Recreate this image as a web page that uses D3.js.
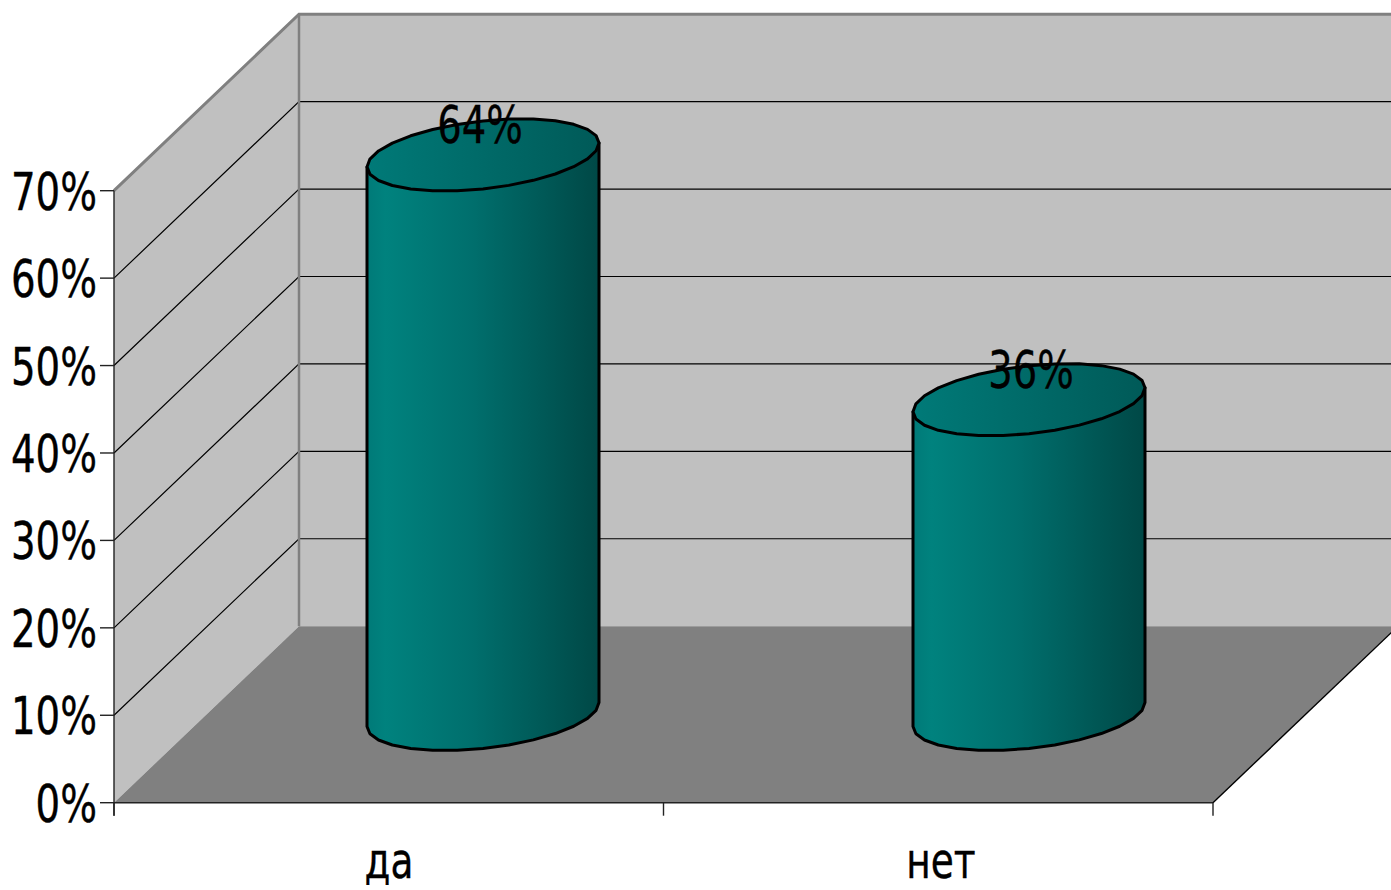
<!DOCTYPE html>
<html>
<head>
<meta charset="utf-8">
<script src="https://cdn.jsdelivr.net/npm/d3@7"></script>
<style>
  html, body { margin: 0; padding: 0; background: #fff; overflow: hidden; }
  svg { display: block; }
  text { font-family: "DejaVu Sans", sans-serif; fill: #000; stroke: #000; stroke-width: 0.4; }
</style>
</head>
<body>
<div id="chart"></div>
<script>
  var categories = ["да", "нет"];
  var values = [0.64, 0.36];
  var valueLabels = ["64%", "36%"];
  var yTicks = [0, 0.1, 0.2, 0.3, 0.4, 0.5, 0.6, 0.7];

  var width = 1391;
  var height = 890;
  var depthX = 185;
  var depthY = 176.5;

  var x = d3.scaleBand().domain(categories).range([114, 1213]);
  var barX = d3.scalePoint().domain(categories).range([483, 1029]);
  var labelX = d3.scalePoint().domain(categories).range([389, 941]);
  var valueLabelX = d3.scalePoint().domain(categories).range([480, 1031]);
  var y = d3.scaleLinear().domain([0, 0.7]).range([802.7, 190.7]);

  var svg = d3.select("#chart").append("svg")
    .attr("width", width)
    .attr("height", height);

  var defs = svg.append("defs");

  function addGradient(id, stops) {
    var grad = defs.append("linearGradient").attr("id", id);
    stops.forEach(function (s) {
      grad.append("stop").attr("offset", s[0]).attr("stop-color", s[1]);
    });
  }
  addGradient("bodyFill", [[0, "#007a78"], [0.08, "#00827e"], [0.45, "#006f6d"], [0.8, "#005654"], [1, "#004846"]]);
  addGradient("topFill", [[0, "#007a78"], [0.5, "#006a68"], [1, "#005a58"]]);

  var polygon = d3.line();
  var x0 = x.range()[0], x1 = x.range()[1];
  var yBase = y(0), yTop = y(0.7);

  // ── Walls and floor ────────────────────────────────────────
  svg.append("path").attr("fill", "#c0c0c0")
    .attr("d", polygon([[x0 + depthX, yTop - depthY], [width + 10, yTop - depthY], [width + 10, yBase - depthY], [x0 + depthX, yBase - depthY]]) + "Z");
  svg.append("path").attr("fill", "#c0c0c0")
    .attr("d", polygon([[x0, yTop], [x0 + depthX, yTop - depthY], [x0 + depthX, yBase - depthY], [x0, yBase]]) + "Z");
  svg.append("path").attr("fill", "#808080")
    .attr("d", polygon([[x0, yBase], [x0 + depthX, yBase - depthY], [x1 + depthX, yBase - depthY], [x1, yBase]]) + "Z");

  // Grid
  var grid = svg.append("g").attr("fill", "none").attr("stroke", "#000").attr("stroke-width", 1.2);
  yTicks.slice(1).forEach(function (t) {
    grid.append("path").attr("d", polygon([[x0, y(t)], [x0 + depthX, y(t) - depthY], [width + 10, y(t) - depthY]]));
  });

  // Wall edges
  var edges = svg.append("g").attr("fill", "none").attr("stroke", "#808080");
  edges.append("path").attr("stroke-width", 3)
    .attr("d", polygon([[x0, yTop], [x0 + depthX, yTop - depthY], [width + 10, yTop - depthY]]));
  edges.append("path").attr("stroke-width", 2.5)
    .attr("d", polygon([[x0 + depthX, yTop - depthY], [x0 + depthX, yBase - depthY]]));

  // ── Axes ───────────────────────────────────────────────────
  var axis = svg.append("g").attr("fill", "none").attr("stroke", "#222").attr("stroke-width", 1.4);
  axis.append("path").attr("d", polygon([[x0, yTop], [x0, yBase + 13]]));
  axis.append("path").attr("d", polygon([[x0, yBase], [x1, yBase]]));
  axis.append("path").attr("stroke", "#000").attr("d", polygon([[x1, yBase], [x1 + depthX, yBase - depthY]]));

  yTicks.forEach(function (t) {
    axis.append("path").attr("d", polygon([[x0 - 14, y(t)], [x0, y(t)]]));
  });
  [x0].concat(categories.map(function (c) { return x(c) + x.bandwidth(); })).forEach(function (px) {
    axis.append("path").attr("d", polygon([[px, yBase], [px, yBase + 13]]));
  });

  function addText(str, px, py, size, anchor, squeeze) {
    return svg.append("text")
      .attr("transform", "translate(" + px + "," + py + ") scale(" + squeeze + ",1)")
      .attr("text-anchor", anchor)
      .attr("font-size", size)
      .text(str);
  }

  yTicks.forEach(function (t) {
    addText(d3.format(".0%")(t), 97, y(t) + 19, 52, "end", 0.745);
  });
  categories.forEach(function (c) {
    addText(c, labelX(c), 878, 50, "middle", 0.75);
  });

  // ── Cylinders ──────────────────────────────────────────────
  var rx = 116, ry = 34, tilt = 12;
  var arcSteps = 14; // coarse on purpose, the outline is faceted in the picture

  function ellipsePoint(cx, cy, t) {
    return [cx + rx * Math.cos(t), cy - tilt * Math.cos(t) + ry * Math.sin(t)];
  }

  function arcPoints(cx, cy, from, to, steps) {
    return d3.range(steps + 1).map(function (i) {
      return ellipsePoint(cx, cy, from + (to - from) * i / steps);
    });
  }

  categories.forEach(function (c, i) {
    var cx = barX(c);
    var cyTop = y(values[i]) - depthY / 2;
    var cyBase = y(0) - depthY / 2;
    var bar = svg.append("g").attr("stroke", "#000").attr("stroke-width", 3).attr("stroke-linejoin", "round");

    // side: top-right edge, down, front of the base (right to left), back up
    var side = arcPoints(cx, cyBase, 0, Math.PI, arcSteps);
    side.unshift([cx + rx, cyTop - tilt]);
    side.push([cx - rx, cyTop + tilt]);
    bar.append("path").attr("fill", "url(#bodyFill)").attr("d", polygon(side) + "Z");

    bar.append("path").attr("fill", "url(#topFill)")
      .attr("d", polygon(arcPoints(cx, cyTop, 0, 2 * Math.PI, arcSteps * 2)) + "Z");

    addText(valueLabels[i], valueLabelX(c), cyTop - 12, 52, "middle", 0.74);
  });
</script>
</body>
</html>
